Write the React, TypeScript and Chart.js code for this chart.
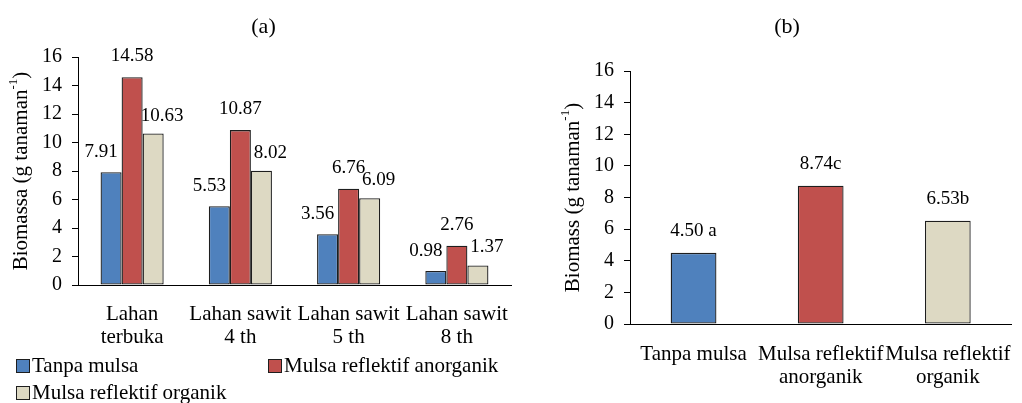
import React, { useEffect, useRef } from "react";
import { Chart, registerables } from "chart.js";

Chart.register(...registerables);

// ---------- data ----------
const leftCategories: (string | string[])[] = [
  ["Lahan", "terbuka"],
  ["Lahan sawit", "4 th"],
  ["Lahan sawit", "5 th"],
  ["Lahan sawit", "8 th"],
];
const seriesNames = ["Tanpa mulsa", "Mulsa reflektif anorganik", "Mulsa reflektif organik"];
const tanpaMulsa = [7.91, 5.53, 3.56, 0.98];
const mulsaAnorganik = [14.58, 10.87, 6.76, 2.76];
const mulsaOrganik = [10.63, 8.02, 6.09, 1.37];

const rightCategories: (string | string[])[] = [
  "Tanpa mulsa",
  ["Mulsa reflektif", "anorganik"],
  ["Mulsa reflektif", "organik"],
];
const rightValues = [4.5, 8.74, 6.53];
const rightLetters = [" a", "c", "b"];

const yTicksMin = 0;
const yTicksMax = 16;
const yTicksStep = 2;

// ---------- styles ----------
const COLORS = ["#4F81BD", "#C0504D", "#DDD9C3"];
const FONT = '"Liberation Serif", "Times New Roman", serif';
const FS_TICK = 20;
const FS_CAT = 21;
const FS_LABEL = 19;
const FS_TITLE = 22;

function makeValueLabels(format: (v: number, i: number, j: number) => string, dx: number[], dy: number[]) {
  return {
    id: "valueLabels",
    afterDatasetsDraw(chart: any) {
      const ctx = chart.ctx;
      ctx.save();
      ctx.font = `${FS_LABEL}px ${FONT}`;
      ctx.fillStyle = "#000";
      ctx.textAlign = "center";
      ctx.textBaseline = "middle";
      chart.data.datasets.forEach((ds: any, i: number) => {
        const meta = chart.getDatasetMeta(i);
        meta.data.forEach((bar: any, j: number) => {
          ctx.fillText(format(ds.data[j], i, j), bar.x + (dx[i] ?? 0), bar.y + (dy[i] ?? -20));
        });
      });
      ctx.restore();
    },
  };
}

function makeYTitle(x: number, main: string, sup: string, tail: string) {
  return {
    id: "yTitleSup",
    afterDraw(chart: any) {
      const ctx = chart.ctx;
      const ca = chart.chartArea;
      ctx.save();
      ctx.translate(x, (ca.top + ca.bottom) / 2);
      ctx.rotate(-Math.PI / 2);
      ctx.fillStyle = "#000";
      ctx.textBaseline = "middle";
      ctx.textAlign = "left";
      const big = `${FS_CAT}px ${FONT}`;
      const small = `13px ${FONT}`;
      ctx.font = big;
      const w1 = ctx.measureText(main).width;
      const w3 = ctx.measureText(tail).width;
      ctx.font = small;
      const w2 = ctx.measureText(sup).width;
      let cx = -(w1 + w2 + w3) / 2;
      ctx.font = big;
      ctx.fillText(main, cx, 0);
      cx += w1;
      ctx.font = small;
      ctx.fillText(sup, cx, -7);
      cx += w2;
      ctx.font = big;
      ctx.fillText(tail, cx, 0);
      ctx.restore();
    },
  };
}

function yScale(width: number) {
  return {
    min: yTicksMin,
    max: yTicksMax,
    ticks: { stepSize: yTicksStep, color: "#000", font: { family: FONT, size: FS_TICK }, padding: 10 },
    grid: { drawOnChartArea: false, drawTicks: true, tickLength: 6, color: "#000" },
    border: { display: true, color: "#000", width: 1 },
    afterFit: (s: any) => {
      s.width = width;
    },
  };
}

function xScale(height: number, padding: number) {
  return {
    ticks: {
      color: "#000",
      font: { family: FONT, size: FS_CAT, lineHeight: 1.08 },
      padding,
      autoSkip: false,
      maxRotation: 0,
      minRotation: 0,
    },
    grid: { display: false },
    border: { display: true, color: "#000", width: 1 },
    afterFit: (s: any) => {
      s.height = height;
    },
  };
}

function titleOpts(text: string, bottom: number) {
  return {
    display: true,
    text,
    color: "#000",
    font: { family: FONT, size: FS_TITLE, weight: "normal" as const, lineHeight: 1.2 },
    padding: { top: 14, bottom },
  };
}

export default function App() {
  const leftRef = useRef<HTMLCanvasElement>(null);
  const rightRef = useRef<HTMLCanvasElement>(null);

  useEffect(() => {
    const seriesData = [tanpaMulsa, mulsaAnorganik, mulsaOrganik];
    const left = new Chart(leftRef.current!, {
      type: "bar",
      data: {
        labels: leftCategories,
        datasets: seriesData.map((d, i) => ({
          label: seriesNames[i],
          data: d,
          backgroundColor: COLORS[i],
          borderColor: "#1e1e1e",
          borderWidth: 1.3,
          borderSkipped: false,
          categoryPercentage: 0.583,
          barPercentage: 1,
        })),
      },
      options: {
        animation: false,
        responsive: false,
        layout: { padding: { left: 16, right: 15, top: 0, bottom: 0 } },
        plugins: {
          legend: { display: false },
          tooltip: { enabled: false },
          title: titleOpts("(a)", 16.6),
        },
        scales: { x: xScale(118, 10) as any, y: yScale(62) as any },
      },
      plugins: [
        makeValueLabels((v) => v.toFixed(2), [-10, 0, 9], [-20, -21, -18]),
        makeYTitle(21, "Biomassa (g tanaman", "-1", ")"),
      ],
    });

    const right = new Chart(rightRef.current!, {
      type: "bar",
      data: {
        labels: rightCategories,
        datasets: [
          {
            label: "Biomass",
            data: rightValues,
            backgroundColor: COLORS,
            borderColor: "#1e1e1e",
            borderWidth: 1.3,
            borderSkipped: false,
            categoryPercentage: 0.36,
            barPercentage: 1,
          },
        ],
      },
      options: {
        animation: false,
        responsive: false,
        layout: { padding: { left: 3, right: 3, top: 0, bottom: 0 } },
        plugins: {
          legend: { display: false },
          tooltip: { enabled: false },
          title: titleOpts("(b)", 30.6),
        },
        scales: { x: xScale(79, 11) as any, y: yScale(75) as any },
      },
      plugins: [
        makeValueLabels((v, _i, j) => v.toFixed(2) + rightLetters[j], [0], [-22]),
        makeYTitle(21, "Biomass (g tanaman", "-1", ")"),
      ],
    });

    return () => {
      left.destroy();
      right.destroy();
    };
  }, []);

  const legendText: React.CSSProperties = {
    position: "absolute",
    fontFamily: FONT,
    fontSize: FS_CAT,
    lineHeight: "24px",
    color: "#000",
    whiteSpace: "nowrap",
  };
  const swatch = (c: string, x: number, y: number) => (
    <div
      style={{
        position: "absolute",
        left: x,
        top: y,
        width: 12,
        height: 12,
        background: c,
        border: "1px solid #1e1e1e",
      }}
    />
  );

  return (
    <div style={{ position: "absolute", left: 0, top: 0, width: 1022, height: 403, background: "#fff", overflow: "hidden" }}>
      <canvas ref={leftRef} width={526} height={403} style={{ position: "absolute", left: 0, top: 0, display: "block" }} />
      <canvas ref={rightRef} width={470} height={403} style={{ position: "absolute", left: 552, top: 0, display: "block" }} />
      {swatch(COLORS[0], 16, 359)}
      <div style={{ ...legendText, left: 32, top: 353 }}>{seriesNames[0]}</div>
      {swatch(COLORS[1], 268, 359)}
      <div style={{ ...legendText, left: 284, top: 353 }}>{seriesNames[1]}</div>
      {swatch(COLORS[2], 16, 386)}
      <div style={{ ...legendText, left: 32, top: 380 }}>{seriesNames[2]}</div>
    </div>
  );
}
